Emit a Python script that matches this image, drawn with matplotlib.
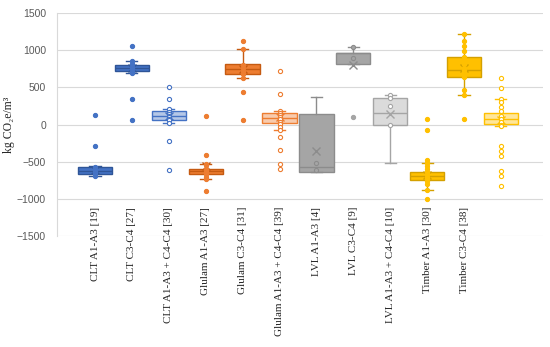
import matplotlib
matplotlib.use('Agg')
import matplotlib.pyplot as plt

# box statistics (kg CO2e/m3)
labels = ['CLT A1-A3 [19]', 'CLT C3-C4 [27]', 'CLT A1-A3 + C4-C4 [30]',
          'Glulam A1-A3 [27]', 'Glulam C3-C4 [31]', 'Glulam A1-A3 + C4-C4 [39]',
          'LVL A1-A3 [4]', 'LVL C3-C4 [9]', 'LVL A1-A3 + C4-C4 [10]',
          'Timber A1-A3 [30]', 'Timber C3-C4 [38]', '']
q1 = [-666, 725, 63, -662, 676, 19, -639, 810, 0, -742, 636, 5]
med = [-630, 765, 117, -630, 747, 86, -572, 966, 161, -693, 734, 76]
q3 = [-577, 805, 175, -604, 819, 153, 140, 966, 358, -644, 913, 148]
whislo = [-698, 690, 23, -729, 631, -71, -639, 810, -518, -876, 399, -17]
whishi = [-563, 859, 211, -527, 1020, 188, 368, 1038, 403, -518, 1221, 345]
means = [-610, 760, 110, -560, 745, 100, -353, 801, 140, -680, 760, 60]

inner_pts = [
    [-570, -600, -620, -640, -650, -690],
    [859, 820, 780, 760, 740, 700, 690],
    [211, 170, 140, 120, 100, 80, 60, 23],
    [-527, -550, -600, -630, -660, -700, -729],
    [1020, 800, 760, 720, 680, 631],
    [188, 160, 130, 100, 70, 40, 10, -30, -71],
    [-523, -617],
    [1038, 895],
    [403, 358, 251, 0],
    [-518, -560, -600, -640, -670, -700, -720, -760, -800, -876],
    [1221, 1119, 1056, 989, 913, 850, 810, 760, 734, 700, 636, 466, 399],
    [345, 300, 240, 180, 120, 80, 40, 0, -17],
]
outlier_pts = [
    [130, -290],
    [1056, 345, 67],
    [502, 345, -228, -617],
    [121, -407, -890],
    [1123, 435, 67],
    [716, 416, -174, -340, -537, -604],
    [],
    [107],
    [],
    [72, -71, -474, -1001],
    [72],
    [631, 497, -295, -362, -429, -621, -688, -823],
]

base = ['#4472C4', '#ED7D31', '#A5A5A5', '#FFC000']
light = ['#B4C7E7', '#F8CBAD', '#DBDBDB', '#FFE699']
edge = ['#2F5597', '#C55A11', '#7F7F7F', '#D4A000']

fig = plt.figure(figsize=(5.5, 3.47), dpi=100)
ax = fig.add_axes([57 / 550, 1 - 236 / 347, 486 / 550, 223 / 347])

stats = []
for i in range(12):
    stats.append(dict(q1=q1[i], med=med[i], q3=q3[i], whislo=whislo[i],
                      whishi=whishi[i], mean=means[i], fliers=[]))

pos = list(range(12))
bp = ax.bxp(stats, positions=pos, widths=0.93, capwidths=0.3,
            patch_artist=True, showmeans=True, showfliers=False)

for i in range(12):
    g = i // 3
    combined = i % 3 == 2
    fc = light[g] if combined else base[g]
    ec = base[g] if combined else edge[g]
    if g == 2 and not combined:
        fc = '#A5A5A5'
        ec = '#8C8C8C'
    bp['boxes'][i].set_facecolor(fc)
    bp['boxes'][i].set_edgecolor(ec)
    bp['boxes'][i].set_linewidth(1.0)
    bp['medians'][i].set_color(ec)
    bp['medians'][i].set_linewidth(1.0)
    for w in bp['whiskers'][2 * i:2 * i + 2]:
        w.set_color(ec)
        w.set_linewidth(1.0)
    for c in bp['caps'][2 * i:2 * i + 2]:
        c.set_color(ec)
        c.set_linewidth(1.0)
    m = bp['means'][i]
    m.set_marker('x')
    m.set_markeredgecolor(ec)
    m.set_markerfacecolor(ec)
    m.set_markersize(6)
    m.set_markeredgewidth(1.0)

    hollow = combined or g == 2
    in_face = 'white' if combined else (fc if g == 2 else base[g])
    ax.plot([i] * len(inner_pts[i]), inner_pts[i], 'o', ms=3,
            mfc=in_face, mec=ec if hollow else base[g], mew=0.8, zorder=4)
    out_face = 'white' if combined else base[g]
    ax.plot([i] * len(outlier_pts[i]), outlier_pts[i], 'o', ms=3,
            mfc=out_face, mec=base[g], mew=0.8, zorder=4)

ax.set_xlim(-1.03, 12.14)
ax.set_ylim(-1500, 1500)
ax.set_yticks(range(-1500, 1501, 500))
ax.yaxis.grid(True, color='#D9D9D9', linewidth=0.8)
ax.set_axisbelow(True)
for s in ['top', 'right', 'bottom']:
    ax.spines[s].set_visible(False)
ax.spines['left'].set_color('#D9D9D9')
ax.spines['left'].set_linewidth(0.8)

ax.set_xticks(pos)
ax.set_xticklabels(labels, rotation=90, family=['Liberation Serif', 'DejaVu Serif'],
                   fontsize=8, color='#262626', va='top')
ax.tick_params(axis='x', length=0, pad=-21)
ax.tick_params(axis='y', length=0, labelsize=7.5, labelcolor='#595959', pad=8)
for t in ax.get_yticklabels():
    t.set_family(['Liberation Sans', 'DejaVu Sans'])

ax.set_ylabel('kg CO\u2082e/m\u00b3', family=['Liberation Serif', 'DejaVu Serif'],
              fontsize=8.5, color='#262626')
ax.yaxis.set_label_coords(-0.086, 0.5)

fig.savefig('out.png', dpi=100)
